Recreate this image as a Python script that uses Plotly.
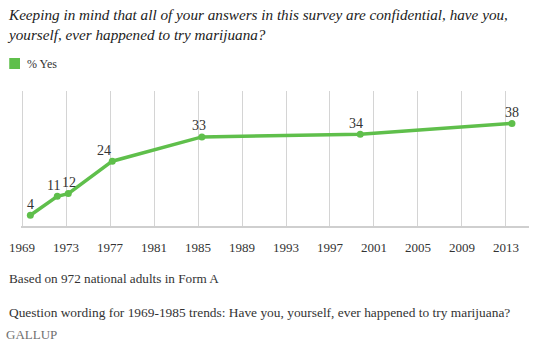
import plotly.graph_objects as go

years = [1969.75, 1972.2, 1973.2, 1977.2, 1985.35, 1999.75, 2013.55]
pct_yes = [4, 11, 12, 24, 33, 34, 38]
label_xshift = [0, -4, 1, -8, -3, -4, 0]
tick_years = list(range(1969, 2014, 4))

title_text = "Keeping in mind that all of your answers in this survey are confidential, have you,<br>yourself, ever happened to try marijuana?"
note1 = "Based on 972 national adults in Form A"
note2 = "Question wording for 1969-1985 trends: Have you, yourself, ever happened to try marijuana?"

GREEN = "#5fbf4b"
FONT = "Liberation Serif, Times New Roman, DejaVu Serif, serif"
TXT = "#333333"

def px(xp):
    return (xp - 21) / 518

def py(yp):
    return (226 - yp) / 135

fig = go.Figure()
fig.add_trace(go.Scatter(
    x=years, y=pct_yes, mode="lines+markers",
    line=dict(color=GREEN, width=3.5),
    marker=dict(color=GREEN, size=7),
    showlegend=False, hoverinfo="skip",
))

for xv, yv, dx in zip(years, pct_yes, label_xshift):
    fig.add_annotation(x=xv, y=yv, text=str(yv), showarrow=False,
                       xshift=dx, yshift=11, yanchor="middle",
                       font=dict(family=FONT, size=14, color=TXT))

fig.update_layout(
    width=539, height=354,
    margin=dict(l=21, r=10, t=91, b=128),
    paper_bgcolor="white", plot_bgcolor="white",
    font=dict(family=FONT, color=TXT),
    xaxis=dict(range=[1968.9, 2015.1], tickmode="array", tickvals=tick_years,
               ticktext=[str(t) for t in tick_years],
               showgrid=True, gridcolor="#d4d4d4", gridwidth=1,
               showline=True, linecolor="#cfcfcf", linewidth=2,
               zeroline=False, ticks="", tickfont=dict(family=FONT, size=13, color=TXT),
               ticklabelstandoff=8, fixedrange=True),
    yaxis=dict(range=[0, 50], showgrid=False, showticklabels=False,
               zeroline=False, showline=False, fixedrange=True),
    annotations=list(fig.layout.annotations) + [
        dict(xref="paper", yref="paper", x=px(5), y=py(4), xanchor="left", yanchor="top",
             text="<i>" + title_text + "</i>", showarrow=False, align="left",
             font=dict(family=FONT, size=15.2, color="#222222")),
        dict(xref="paper", yref="paper", x=px(25), y=py(64), xanchor="left", yanchor="middle",
             text="% Yes", showarrow=False, font=dict(family=FONT, size=12, color=TXT)),
        dict(xref="paper", yref="paper", x=px(7), y=py(278), xanchor="left", yanchor="middle",
             text=note1, showarrow=False, font=dict(family=FONT, size=13.2, color=TXT)),
        dict(xref="paper", yref="paper", x=px(7), y=py(312), xanchor="left", yanchor="middle",
             text=note2, showarrow=False, font=dict(family=FONT, size=13.4, color=TXT)),
        dict(xref="paper", yref="paper", x=px(4), y=py(334), xanchor="left", yanchor="middle",
             text="GALLUP", showarrow=False, font=dict(family=FONT, size=13, color="#6f6f6f")),
    ],
    shapes=[dict(type="rect", xref="paper", yref="paper",
                 x0=px(9), x1=px(20), y0=py(69), y1=py(58),
                 fillcolor=GREEN, line=dict(width=0))],
)

fig.write_html("out.html")
